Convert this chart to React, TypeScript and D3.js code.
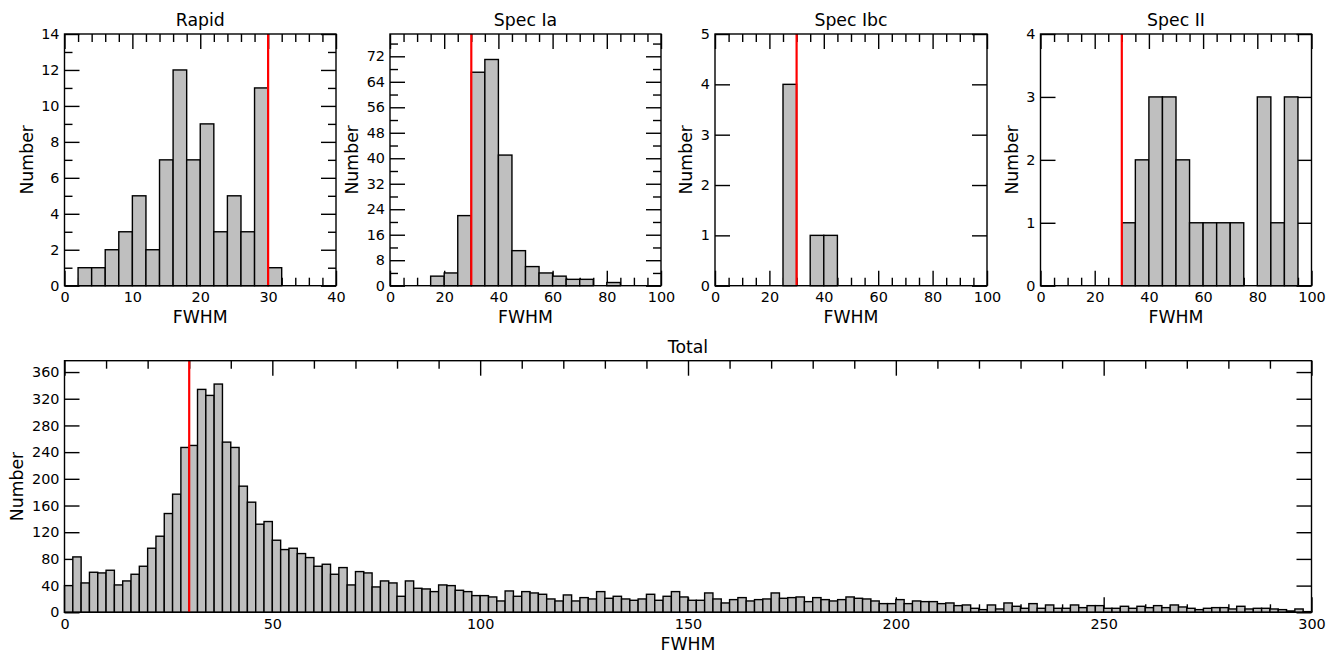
import React, { useEffect, useRef } from "react";
import * as d3 from "d3";

// histogram counts (bin edges start at 0)
const rapidCounts = [0, 1, 1, 2, 3, 5, 2, 7, 12, 7, 9, 3, 5, 3, 11, 1, 0, 0, 0, 0];
const specIaCounts = [0, 0, 0, 3, 4, 22, 67, 71, 41, 11, 6, 4, 3, 2, 2, 0, 1, 0, 0, 0];
const specIbcCounts = [0, 0, 0, 0, 0, 4, 0, 1, 1, 0, 0, 0, 0, 0, 0, 0, 0, 0, 0, 0];
const specIICounts = [0, 0, 0, 0, 0, 0, 1, 2, 3, 3, 2, 1, 1, 1, 1, 0, 3, 1, 3, 0];
const totalCounts = [
  40, 83, 44, 60, 59, 63, 41, 47, 57, 69,
  96, 114, 148, 177, 247, 250, 334, 325, 342, 255,
  247, 189, 165, 132, 136, 108, 94, 96, 88, 82,
  69, 72, 57, 67, 41, 61, 59, 38, 47, 44,
  24, 47, 36, 35, 31, 41, 40, 33, 31, 25,
  25, 23, 17, 32, 24, 31, 29, 27, 20, 17,
  26, 17, 22, 20, 31, 21, 24, 20, 18, 20,
  27, 18, 24, 31, 23, 18, 18, 29, 20, 14,
  19, 22, 17, 19, 20, 29, 21, 22, 23, 16,
  22, 19, 17, 19, 23, 21, 20, 17, 13, 13,
  19, 13, 17, 16, 16, 13, 14, 10, 11, 6,
  4, 11, 5, 14, 9, 6, 13, 6, 11, 6,
  6, 11, 7, 10, 10, 6, 6, 9, 6, 9,
  7, 10, 7, 11, 8, 6, 4, 6, 7, 7,
  5, 9, 5, 6, 6, 5, 4, 2, 5, 1,
];

// tick labels
const rapidXTicks = [0, 10, 20, 30, 40];
const rapidYTicks = [0, 2, 4, 6, 8, 10, 12, 14];
const specXTicks = [0, 20, 40, 60, 80, 100];
const specIaYTicks = [0, 8, 16, 24, 32, 40, 48, 56, 64, 72];
const specIbcYTicks = [0, 1, 2, 3, 4, 5];
const specIIYTicks = [0, 1, 2, 3, 4];
const totalXTicks = [0, 50, 100, 150, 200, 250, 300];
const totalYTicks = [0, 40, 80, 120, 160, 200, 240, 280, 320, 360];

const cutFWHM = 30;

interface Panel {
  title: string;
  counts: number[];
  binWidth: number;
  xMax: number;
  yMax: number;
  xTicks: number[];
  xMinorStep: number;
  yTicks: number[];
  yMinorStep: number | null;
  left: number;
  right: number;
  top: number;
  bottom: number;
  ylabelOffset: number;
}

const panels: Panel[] = [
  { title: "Rapid", counts: rapidCounts, binWidth: 2, xMax: 40, yMax: 14, xTicks: rapidXTicks, xMinorStep: 2,
    yTicks: rapidYTicks, yMinorStep: 1, left: 64.5, right: 336, top: 34, bottom: 285.7, ylabelOffset: 32 },
  { title: "Spec Ia", counts: specIaCounts, binWidth: 5, xMax: 100, yMax: 79, xTicks: specXTicks, xMinorStep: 5,
    yTicks: specIaYTicks, yMinorStep: 4, left: 390, right: 661, top: 34, bottom: 285.7, ylabelOffset: 32 },
  { title: "Spec Ibc", counts: specIbcCounts, binWidth: 5, xMax: 100, yMax: 5, xTicks: specXTicks, xMinorStep: 5,
    yTicks: specIbcYTicks, yMinorStep: null, left: 715, right: 987, top: 34, bottom: 285.7, ylabelOffset: 23 },
  { title: "Spec II", counts: specIICounts, binWidth: 5, xMax: 100, yMax: 4, xTicks: specXTicks, xMinorStep: 5,
    yTicks: specIIYTicks, yMinorStep: null, left: 1040.5, right: 1311.5, top: 34, bottom: 285.7, ylabelOffset: 23 },
  { title: "Total", counts: totalCounts, binWidth: 2, xMax: 300, yMax: 377, xTicks: totalXTicks, xMinorStep: 10,
    yTicks: totalYTicks, yMinorStep: null, left: 64.5, right: 1311.5, top: 360.7, bottom: 612.3, ylabelOffset: 41.5 },
];

const FONT = "'DejaVu Sans', sans-serif";

function drawPanel(svg: d3.Selection<SVGSVGElement, unknown, null, undefined>, p: Panel) {
  const x = d3.scaleLinear().domain([0, p.xMax]).range([p.left, p.right]);
  const y = d3.scaleLinear().domain([0, p.yMax]).range([p.bottom, p.top]);
  const g = svg.append("g");

  const xMinor = d3.range(0, p.xMax + 1e-9, p.xMinorStep).filter((v) => !p.xTicks.includes(v));
  const yMinor = p.yMinorStep ? d3.range(0, p.yMax + 1e-9, p.yMinorStep).filter((v) => !p.yTicks.includes(v)) : [];

  const style = (sel: d3.Selection<SVGGElement, unknown, null, undefined>) => {
    sel.select(".domain").remove();
    sel.selectAll("line").attr("stroke", "#000").attr("stroke-width", 1.4);
    sel.attr("font-family", FONT).attr("font-size", 14.4);
    sel.selectAll("text").attr("fill", "#000");
  };

  // inward ticks on all four sides
  g.append("g").attr("transform", `translate(0,${p.bottom})`)
    .call(d3.axisBottom(x).tickValues(p.xTicks).tickSize(-15).tickPadding(6).tickFormat(d3.format("d")))
    .call(style);
  g.append("g").attr("transform", `translate(0,${p.bottom})`)
    .call(d3.axisBottom(x).tickValues(xMinor).tickSize(-8).tickFormat(() => ""))
    .call(style);
  g.append("g").attr("transform", `translate(0,${p.top})`)
    .call(d3.axisTop(x).tickValues(p.xTicks).tickSize(-15).tickFormat(() => ""))
    .call(style);
  g.append("g").attr("transform", `translate(0,${p.top})`)
    .call(d3.axisTop(x).tickValues(xMinor).tickSize(-8).tickFormat(() => ""))
    .call(style);
  g.append("g").attr("transform", `translate(${p.left},0)`)
    .call(d3.axisLeft(y).tickValues(p.yTicks).tickSize(-15).tickPadding(5).tickFormat(d3.format("d")))
    .call(style);
  g.append("g").attr("transform", `translate(${p.left},0)`)
    .call(d3.axisLeft(y).tickValues(yMinor).tickSize(-8).tickFormat(() => ""))
    .call(style);
  g.append("g").attr("transform", `translate(${p.right},0)`)
    .call(d3.axisRight(y).tickValues(p.yTicks).tickSize(-15).tickFormat(() => ""))
    .call(style);
  g.append("g").attr("transform", `translate(${p.right},0)`)
    .call(d3.axisRight(y).tickValues(yMinor).tickSize(-8).tickFormat(() => ""))
    .call(style);

  // bars
  const bins = p.counts.map((c, i) => ({ x0: i * p.binWidth, x1: (i + 1) * p.binWidth, c })).filter((b) => b.c > 0);
  g.append("g").selectAll("rect").data(bins).join("rect")
    .attr("x", (b) => x(b.x0))
    .attr("y", (b) => y(b.c))
    .attr("width", (b) => x(b.x1) - x(b.x0))
    .attr("height", (b) => y(0) - y(b.c))
    .attr("fill", "#bfbfbf")
    .attr("stroke", "#000")
    .attr("stroke-width", 1.4);

  // cut line
  g.append("line")
    .attr("x1", x(cutFWHM)).attr("x2", x(cutFWHM))
    .attr("y1", p.top).attr("y2", p.bottom)
    .attr("stroke", "#ff0000").attr("stroke-width", 2.2);

  // frame
  g.append("rect")
    .attr("x", p.left).attr("y", p.top)
    .attr("width", p.right - p.left).attr("height", p.bottom - p.top)
    .attr("fill", "none").attr("stroke", "#000").attr("stroke-width", 1.4);

  // labels
  g.append("text")
    .attr("x", (p.left + p.right) / 2).attr("y", p.top - 8)
    .attr("text-anchor", "middle").attr("font-family", FONT).attr("font-size", 17.3)
    .text(p.title);
  g.append("text")
    .attr("x", (p.left + p.right) / 2).attr("y", p.bottom + 37.5)
    .attr("text-anchor", "middle").attr("font-family", FONT).attr("font-size", 17.3)
    .text("FWHM");
  const cy = (p.top + p.bottom) / 2;
  const lx = p.left - p.ylabelOffset;
  g.append("text")
    .attr("transform", `translate(${lx},${cy}) rotate(-90)`)
    .attr("text-anchor", "middle").attr("font-family", FONT).attr("font-size", 17.3)
    .text("Number");
}

export default function App() {
  const svgRef = useRef<SVGSVGElement>(null);

  useEffect(() => {
    const svg = d3.select(svgRef.current!);
    svg.selectAll("*").remove();
    panels.forEach((p) => drawPanel(svg, p));
  }, []);

  return (
    <svg
      ref={svgRef}
      width={1335}
      height={653}
      style={{ position: "absolute", left: 0, top: 0, background: "#fff" }}
    />
  );
}
